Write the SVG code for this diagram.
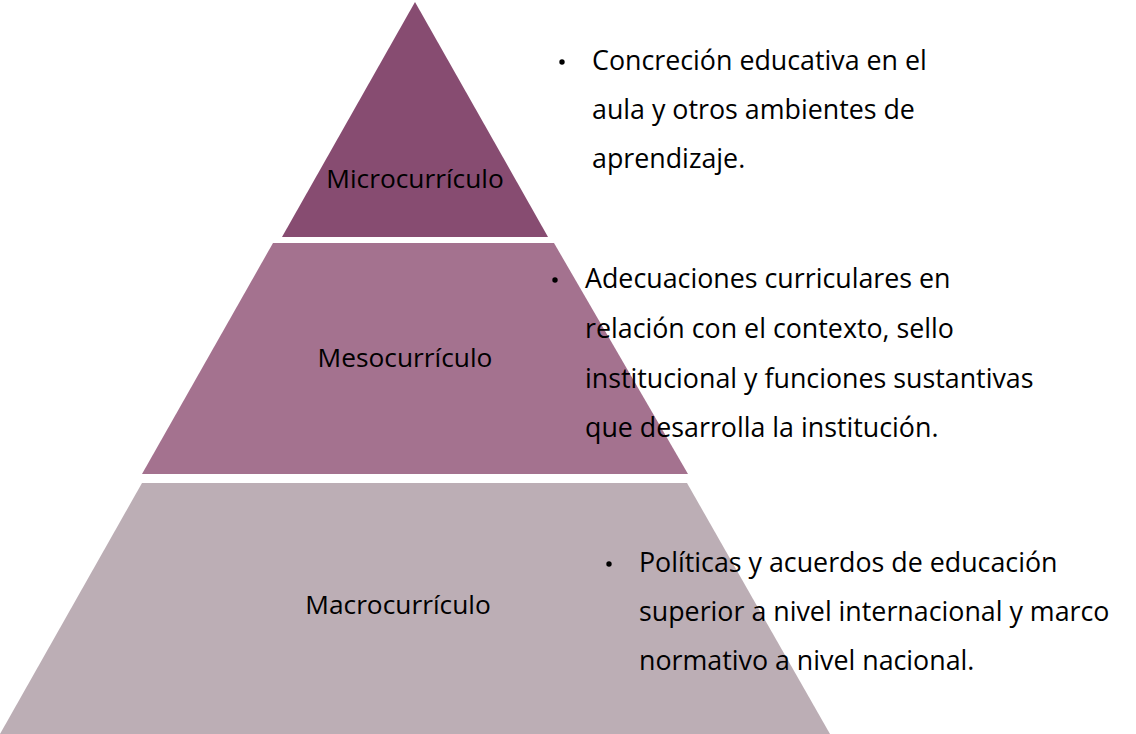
<svg xmlns="http://www.w3.org/2000/svg" width="1136" height="734" viewBox="0 0 1136 734">
<style>
.lbl{font-family:"Open Sans","Noto Sans","Liberation Sans",sans-serif;font-size:26.3px;fill:#000;text-anchor:middle}
.txt{font-family:"Open Sans","Noto Sans","Liberation Sans",sans-serif;font-size:26.8px;fill:#000}
</style>
<rect width="1136" height="734" fill="#fff"/>
<g id="macro">
<polygon points="142,483 687,483 830,734 0,734" fill="#BCAEB5"/>
<text class="lbl" x="398" y="614">Macrocurrículo</text>
</g>
<g id="meso">
<polygon points="273,243 554,243 688,474 142,474" fill="#A4728F"/>
<text class="lbl" x="405" y="367">Mesocurrículo</text>
</g>
<g id="micro">
<polygon points="415,2 548,237 282,237" fill="#874C71"/>
<text class="lbl" x="415" y="188">Microcurrículo</text>
</g>
<g id="micro-text">
<circle cx="562" cy="62" r="2.7"/>
<text class="txt" x="592" y="70">Concreción educativa en el</text>
<text class="txt" x="592" y="119">aula y otros ambientes de</text>
<text class="txt" x="592" y="168">aprendizaje.</text>
</g>
<g id="meso-text">
<circle cx="555" cy="280" r="2.7"/>
<text class="txt" x="585" y="288">Adecuaciones curriculares en</text>
<text class="txt" x="585" y="338">relación con el contexto, sello</text>
<text class="txt" x="585" y="388">institucional y funciones sustantivas</text>
<text class="txt" x="585" y="437">que desarrolla la institución.</text>
</g>
<g id="macro-text">
<circle cx="609" cy="564" r="2.7"/>
<text class="txt" x="639" y="572">Políticas y acuerdos de educación</text>
<text class="txt" x="639" y="621">superior a nivel internacional y marco</text>
<text class="txt" x="639" y="670">normativo a nivel nacional.</text>
</g>
<g id="connectors"/>
</svg>
